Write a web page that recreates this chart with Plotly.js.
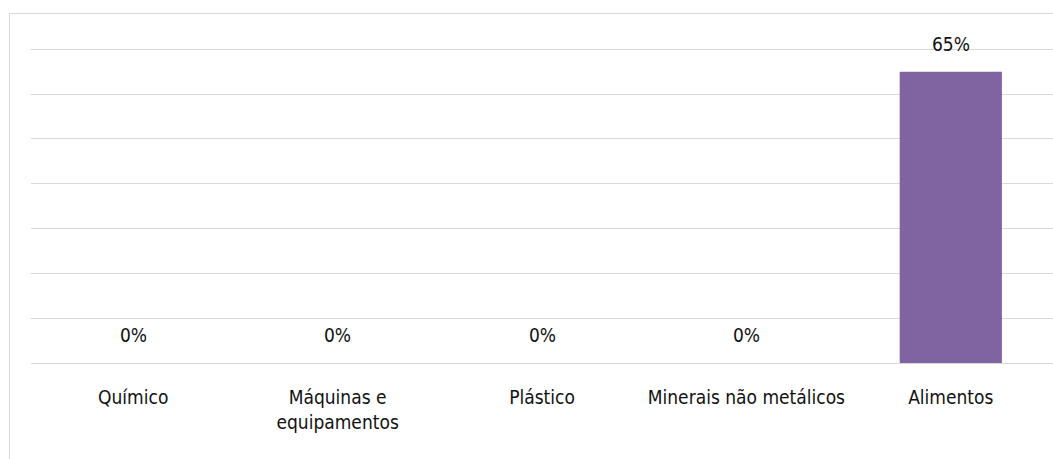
<!DOCTYPE html>
<html>
<head>
<meta charset="utf-8">
<script src="https://cdn.plot.ly/plotly-3.0.1.min.js"></script>
<style>
html,body{margin:0;padding:0;background:#fff;}
#chart{width:1053px;height:459px;}
</style>
</head>
<body>
<div id="chart"></div>
<script>
const categories = ["Químico", "Máquinas e<br>equipamentos", "Plástico", "Minerais não metálicos", "Alimentos"];
const values = [0, 0, 0, 0, 65];
const valueLabels = ["0%", "0%", "0%", "0%", "65%"];
const yTicks = [0, 10, 20, 30, 40, 50, 60, 70];

const FONT = '"DejaVu Sans Condensed", "Liberation Sans Narrow", "DejaVu Sans", sans-serif';

const trace = {
  type: 'bar',
  x: categories,
  y: values,
  marker: {color: '#8064A2'},
  hoverinfo: 'skip'
};

const annotations = categories.map((c, i) => ({
  x: c, y: values[i], xref: 'x', yref: 'y',
  text: valueLabels[i], showarrow: false,
  yanchor: 'bottom', yshift: 15,
  font: {family: FONT, size: 19, color: '#111111'}
}));

const W = 1053, L = 31, R = 0, T = 47, B = 96, H = 459;
const pw = W - L - R, ph = H - T - B;
const px = v => (v - L) / pw;
const py = v => (H - B - v) / ph;

const layout = {
  width: W, height: H,
  margin: {l: L, r: R, t: T, b: B, pad: 0},
  paper_bgcolor: '#ffffff',
  plot_bgcolor: '#ffffff',
  showlegend: false,
  bargap: 0.5,
  font: {family: FONT, size: 19, color: '#111111'},
  xaxis: {
    type: 'category',
    showgrid: false,
    showline: false,
    zeroline: false,
    ticks: '',
    ticklabelstandoff: 21,
    tickfont: {family: FONT, size: 19, color: '#111111'},
    fixedrange: true
  },
  yaxis: {
    range: [0, 70.5],
    tickvals: yTicks,
    showticklabels: false,
    showgrid: true,
    gridcolor: '#d9d9d9',
    gridwidth: 1,
    zeroline: true,
    zerolinecolor: '#d9d9d9',
    zerolinewidth: 1,
    showline: false,
    ticks: '',
    fixedrange: true
  },
  annotations: annotations,
  shapes: [
    {type: 'line', xref: 'paper', yref: 'paper', x0: px(9.5), x1: px(9.5), y0: py(13.5), y1: py(470), line: {color: '#d9d9d9', width: 1}, layer: 'below'},
    {type: 'line', xref: 'paper', yref: 'paper', x0: px(9.5), x1: px(1060), y0: py(13.5), y1: py(13.5), line: {color: '#d9d9d9', width: 1}, layer: 'below'}
  ]
};

Plotly.newPlot('chart', [trace], layout, {displayModeBar: false, staticPlot: true});
</script>
</body>
</html>
